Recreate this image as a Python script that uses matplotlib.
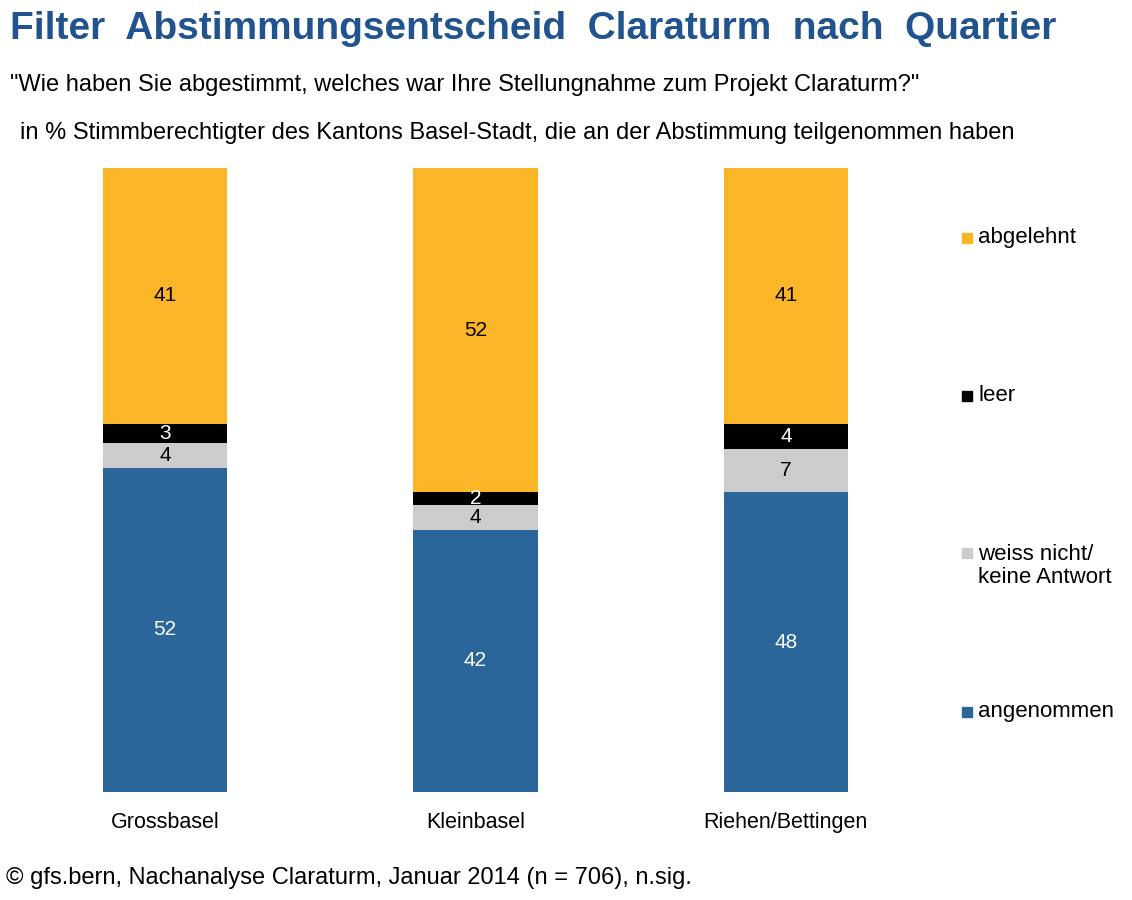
import numpy as np
import matplotlib
matplotlib.use("Agg")
import matplotlib.pyplot as plt
from matplotlib.patches import Rectangle

plt.rcParams['font.family'] = ['Liberation Sans', 'DejaVu Sans']

# data
quartiere = ["Grossbasel", "Kleinbasel", "Riehen/Bettingen"]
angenommen = [52, 42, 48]
weiss_nicht = [4, 4, 7]
leer = [3, 2, 4]
abgelehnt = [41, 52, 41]

series = [angenommen, weiss_nicht, leer, abgelehnt]
colors = ["#2A6699", "#CCCCCC", "#000000", "#FBB627"]
text_colors = ["white", "black", "white", "black"]
legend_labels = ["angenommen", "weiss nicht/\nkeine Antwort", "leer", "abgelehnt"]
legend_y = [712, 566, 396, 238]   # pixel rows of legend entries

W, H = 1132, 900
fig = plt.figure(figsize=(W / 100, H / 100), dpi=100)
ax = fig.add_axes([10 / W, 108 / H, 931 / W, 624 / H])

x = np.arange(len(quartiere))
bottom = np.zeros(len(quartiere))
for vals, col, tcol in zip(series, colors, text_colors):
    ax.bar(x, vals, width=0.4, bottom=bottom, color=col, edgecolor="none")
    for xi, b, v in zip(x, bottom, vals):
        ax.text(xi, b + v / 2, str(v), ha="center", va="center",
                fontsize=15, color=tcol)
    bottom += np.array(vals)

ax.set_xlim(-0.5, 2.5)
ax.set_ylim(0, 100)
ax.axis("off")
for xi, name in zip(x, quartiere):
    ax.text(xi, -4.9, name, ha="center", va="center", fontsize=15.5)

# legend
for lab, col, py in zip(legend_labels, colors, legend_y):
    nlines = lab.count("\n") + 1
    sq_y = py - (nlines - 1) * 13
    fig.patches.append(Rectangle((962 / W, (H - sq_y - 5) / H), 10 / W, 10 / H,
                                 transform=fig.transFigure, color=col))
    fig.text(978 / W, (H - py) / H, lab, ha="left", va="center",
             fontsize=16, linespacing=1.12)

fig.text(10 / W, (H - 29) / H, "Filter  Abstimmungsentscheid  Claraturm  nach  Quartier",
         fontsize=28, fontweight="bold", color="#21548F", va="center", ha="left")
fig.text(10 / W, (H - 85) / H,
         '"Wie haben Sie abgestimmt, welches war Ihre Stellungnahme zum Projekt Claraturm?"',
         fontsize=17, va="center", ha="left")
fig.text(20 / W, (H - 133) / H,
         "in % Stimmberechtigter des Kantons Basel-Stadt, die an der Abstimmung teilgenommen haben",
         fontsize=17, va="center", ha="left")
fig.text(6 / W, (H - 878) / H,
         "© gfs.bern, Nachanalyse Claraturm, Januar 2014 (n = 706), n.sig.",
         fontsize=17, va="center", ha="left")

fig.savefig("out.png", dpi=100)
